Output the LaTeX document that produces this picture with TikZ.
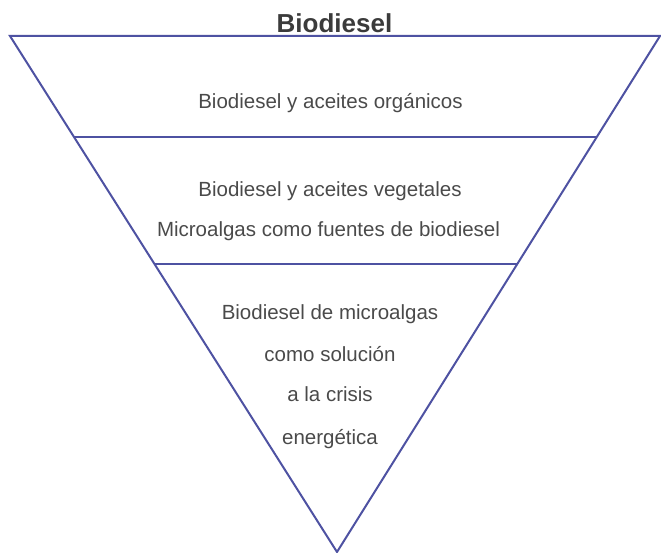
\documentclass[tikz,border=0pt]{standalone}
\usepackage{fontspec}
\setmainfont{Liberation Sans}
\usetikzlibrary{calc}
\definecolor{edgeblue}{HTML}{4E52A2}
\definecolor{txtgray}{HTML}{4A4A4A}
\begin{document}
\begin{tikzpicture}[x=1pt,y=1pt,
  edge/.style={draw=edgeblue,line width=2pt,line join=miter},
  lbl/.style={anchor=base,inner sep=0pt,text=txtgray,font=\fontsize{20.5}{24}\selectfont},
  ttl/.style={anchor=base,inner sep=0pt,text=txtgray!80!black,font=\fontsize{26}{30}\selectfont\bfseries}]
\useasboundingbox (0,0) rectangle (661,553);
\coordinate (TL) at (10,517);
\coordinate (TR) at (660,517);
\coordinate (A) at (337,1);
\coordinate (L1) at ($(TL)!0.1957!(A)$);
\coordinate (R1) at ($(TR)!0.1957!(A)$);
\coordinate (L2) at ($(TL)!0.4419!(A)$);
\coordinate (R2) at ($(TR)!0.4419!(A)$);
\draw[edge] (TL) -- (TR) -- (A) -- cycle;
\draw[edge] (L1) -- (R1);
\draw[edge] (L2) -- (R2);
\node[ttl] (title) at (334.5,520) {Biodiesel};
\node[lbl] (t1) at (330.5,444) {Biodiesel y aceites orgánicos};
\node[lbl] (t2) at (330,356) {Biodiesel y aceites vegetales};
\node[lbl] (t3) at (328.5,316) {Microalgas como fuentes de biodiesel};
\node[lbl] (t4) at (330,233) {Biodiesel de microalgas};
\node[lbl] (t5) at (330,191) {como solución};
\node[lbl] (t6) at (330,151) {a la crisis};
\node[lbl] (t7) at (330,108) {energética};
\end{tikzpicture}
\end{document}
